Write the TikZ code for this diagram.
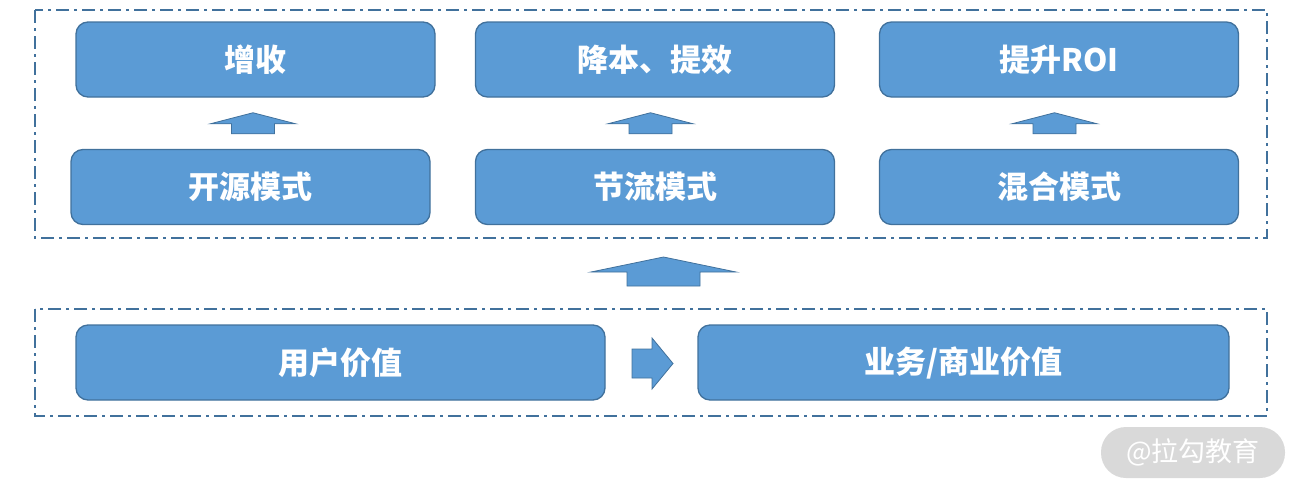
\documentclass[tikz,border=0pt]{standalone}
\usepackage{fontspec}
\newfontfamily\cjk{Noto Sans CJK SC}
\usepackage{tikz}
\usetikzlibrary{positioning, calc}
\definecolor{boxblue}{HTML}{5B9BD5}
\definecolor{boxline}{HTML}{41719C}
\definecolor{markgray}{HTML}{D9D9D9}

% block arrow pointing up: centre, half head width, half shaft width, head length, shaft length
\newcommand{\blockup}[5]{%
  \fill[boxblue, draw=boxline, line width=0.8pt, line join=miter]
    ($(#1)+(0,-#4/2-#5/2)$) -- ++(#2,#4) -- ++(-#2+#3,0) -- ++(0,#5)
    -- ++(-2*#3,0) -- ++(0,-#5) -- ++(-#2+#3,0) -- cycle;}

\begin{document}
\begin{tikzpicture}[
        x=1pt, y=-1pt,
        node distance=41pt and 41pt,
        stage/.style={rectangle, rounded corners=12pt, draw=boxline, line width=1.3pt, fill=boxblue,
            outer sep=0pt, minimum width=359pt, minimum height=75pt, text=white,
            font=\cjk\fontsize{31}{36}\selectfont\bfseries},
        frame/.style={draw=boxline, line width=1.8pt, dash pattern=on 13pt off 5pt on 3pt off 5pt},
    ]
    \useasboundingbox (0,0) rectangle (1302,496);

    % goals
    \node[stage] (gain) at (255.5,59.5) {增收};
    \node[stage, right=40.5pt of gain] (save) {降本、提效};
    \node[stage, right=45pt of save] (roi) {提升ROI};

    % modes
    \node[stage] (open) at (250.5,187) {开源模式};
    \node[stage, right=45.5pt of open] (cut) {节流模式};
    \node[stage, right=45pt of cut] (mix) {混合模式};

    % values
    \node[stage, minimum width=529pt] (user) at (340.5,362.5) {用户价值};
    \node[stage, minimum width=531pt, right=93pt of user] (biz) {业务/商业价值};

    % frames
    \draw[frame] (35,10) rectangle (1267,238);
    \draw[frame] (35,309) rectangle (1267,416);

    % arrows
    \coordinate (a1) at ($(open.north)!0.5!(gain.south)$);
    \coordinate (a2) at ($(cut.north)!0.5!(save.south)+(-4.5,0)$);
    \coordinate (a3) at ($(mix.north)!0.5!(roi.south)+(-4.5,0)$);
    \blockup{a1}{42.5}{21.5}{11}{10}
    \blockup{a2}{42.5}{21.5}{11}{10}
    \blockup{a3}{42.5}{21.5}{11}{10}
    \coordinate (a4) at (663.5,271.5);
    \blockup{a4}{72.5}{36.5}{15}{14}
    \coordinate (a5) at ($(user.east)!0.5!(biz.west)+(1,0)$);
    \fill[boxblue, draw=boxline, line width=0.8pt]
      ($(a5)+(-20.5,-13.5)$) -- ++(20,0) -- ++(0,-11) -- ++(21,25.5)
      -- ++(-21,25.5) -- ++(0,-11) -- ++(-20,0) -- cycle;

    % watermark
    \node[fill=markgray, rounded corners=25pt, minimum width=184pt, minimum height=51pt,
          text=white, font=\cjk\fontsize{27}{32}\selectfont] (mark) at (1193,452.5) {@拉勾教育};
\end{tikzpicture}
\end{document}
